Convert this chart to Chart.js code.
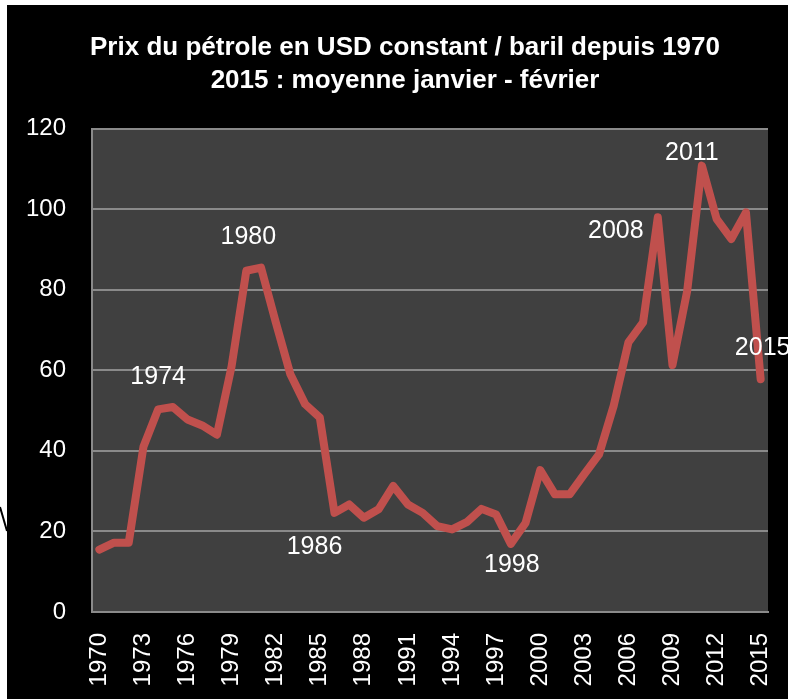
<!DOCTYPE html>
<html>
<head>
<meta charset="utf-8">
<script src="https://cdn.jsdelivr.net/npm/chart.js@4"></script>
<style>
  html, body { margin:0; padding:0; background:#fff; }
  #wrap { position:absolute; left:7px; top:5px; width:781px; height:694px; background:#000; }
  #edge { position:absolute; left:0; top:0; }
</style>
</head>
<body>
<svg id="edge" width="8" height="699"><line x1="0" y1="507" x2="7" y2="531" stroke="#000" stroke-width="2"/></svg>
<div id="wrap"><canvas id="chart"></canvas></div>
<script>
'use strict';

// ===== data =====
const YEARS = [
  '1970','1971','1972','1973','1974','1975','1976','1977','1978','1979',
  '1980','1981','1982','1983','1984','1985','1986','1987','1988','1989',
  '1990','1991','1992','1993','1994','1995','1996','1997','1998','1999',
  '2000','2001','2002','2003','2004','2005','2006','2007','2008','2009',
  '2010','2011','2012','2013','2014','2015'
];
const PRICES = [
  15.5, 17.2, 17.2, 41.0, 50.3, 50.9, 47.8, 46.3, 44.0, 61.0,
  84.7, 85.5, 72.0, 59.0, 51.6, 48.3, 24.6, 26.7, 23.4, 25.5,
  31.3, 26.7, 24.6, 21.3, 20.5, 22.3, 25.6, 24.2, 16.9, 22.1,
  35.2, 29.2, 29.2, 34.2, 39.1, 51.2, 66.9, 71.9, 98.0, 61.3,
  79.7, 110.8, 97.6, 92.6, 99.2, 57.8
];
const MARKED_YEARS = ['1974','1980','1986','1998','2008','2011','2015'];
const TITLE_LINES = [
  'Prix du pétrole en USD constant / baril depuis 1970',
  '2015 : moyenne janvier - février'
];

// ===== styles =====
const FONT = "'Liberation Sans', Arial, sans-serif";
const GRID = '#8a8a8a';
// décalage du texte par rapport au point (px)
const MARK_OFFSET = {
  '1974':[0,-32], '1980':[2,-34], '1986':[-20,34], '1998':[1,21],
  '2008':[-42,14], '2011':[-10,-13], '2015':[2,-31]
};

// fond gris de la zone de tracé
const plotBg = {
  id:'plotBg',
  beforeDraw(c){
    const a = c.chartArea, ctx = c.ctx;
    ctx.save();
    ctx.fillStyle = '#404040';
    ctx.fillRect(a.left, a.top, a.right - a.left, a.bottom - a.top);
    ctx.restore();
  }
};

// le titre de l'original est un peu décalé vers la droite
const titleShift = {
  id:'titleShift',
  afterLayout(c){
    if(c.titleBlock) c.titleBlock.left += 35;
  }
};

// étiquettes des années marquantes
const yearMarks = {
  id:'yearMarks',
  afterDatasetsDraw(c){
    const ctx = c.ctx, xs = c.scales.x, ys = c.scales.y;
    ctx.save();
    ctx.fillStyle = '#fff';
    ctx.font = '25px ' + FONT;
    ctx.textAlign = 'center';
    ctx.textBaseline = 'middle';
    MARKED_YEARS.forEach(y => {
      const i = YEARS.indexOf(y);
      const off = MARK_OFFSET[y] || [0,-30];
      ctx.fillText(y, xs.getPixelForValue(i) + off[0], ys.getPixelForValue(PRICES[i]) + off[1]);
    });
    ctx.restore();
  }
};

new Chart(document.getElementById('chart'), {
  type:'line',
  data:{
    labels: YEARS,
    datasets:[{
      data: PRICES,
      borderColor:'#C0504D',
      borderWidth:8,
      borderJoinStyle:'round',
      borderCapStyle:'round',
      pointRadius:0,
      tension:0,
      fill:false
    }]
  },
  options:{
    responsive:true,
    maintainAspectRatio:false,
    animation:false,
    layout:{ padding:{ left:0, right:20, top:0, bottom:0 } },
    plugins:{
      legend:{ display:false },
      tooltip:{ enabled:false },
      title:{
        display:true,
        text: TITLE_LINES,
        color:'#fff',
        font:{ family:FONT, size:26, weight:'bold', lineHeight:1.28 },
        padding:{ top:26, bottom:31 }
      }
    },
    scales:{
      x:{
        type:'category',
        offset:true,
        grid:{ display:false, drawTicks:false },
        border:{ display:true, color:GRID, width:2 },
        ticks:{
          color:'#fff',
          font:{ family:FONT, size:24 },
          autoSkip:false,
          minRotation:90,
          maxRotation:90,
          padding:21,
          callback(v, i){ return (Number(YEARS[i]) - 1970) % 3 === 0 ? YEARS[i] : ''; }
        },
        afterFit(s){ s.height = 87; s.paddingLeft = 0; s.paddingRight = 0; }
      },
      y:{
        min:0,
        max:120,
        grid:{ color:GRID, lineWidth:2, drawTicks:false },
        border:{ display:true, color:GRID, width:2 },
        ticks:{
          stepSize:20,
          color:'#fff',
          font:{ family:FONT, size:24 },
          padding:26
        },
        afterFit(s){ s.width = 85; }
      }
    }
  },
  plugins:[plotBg, titleShift, yearMarks]
});
</script>
</body>
</html>
